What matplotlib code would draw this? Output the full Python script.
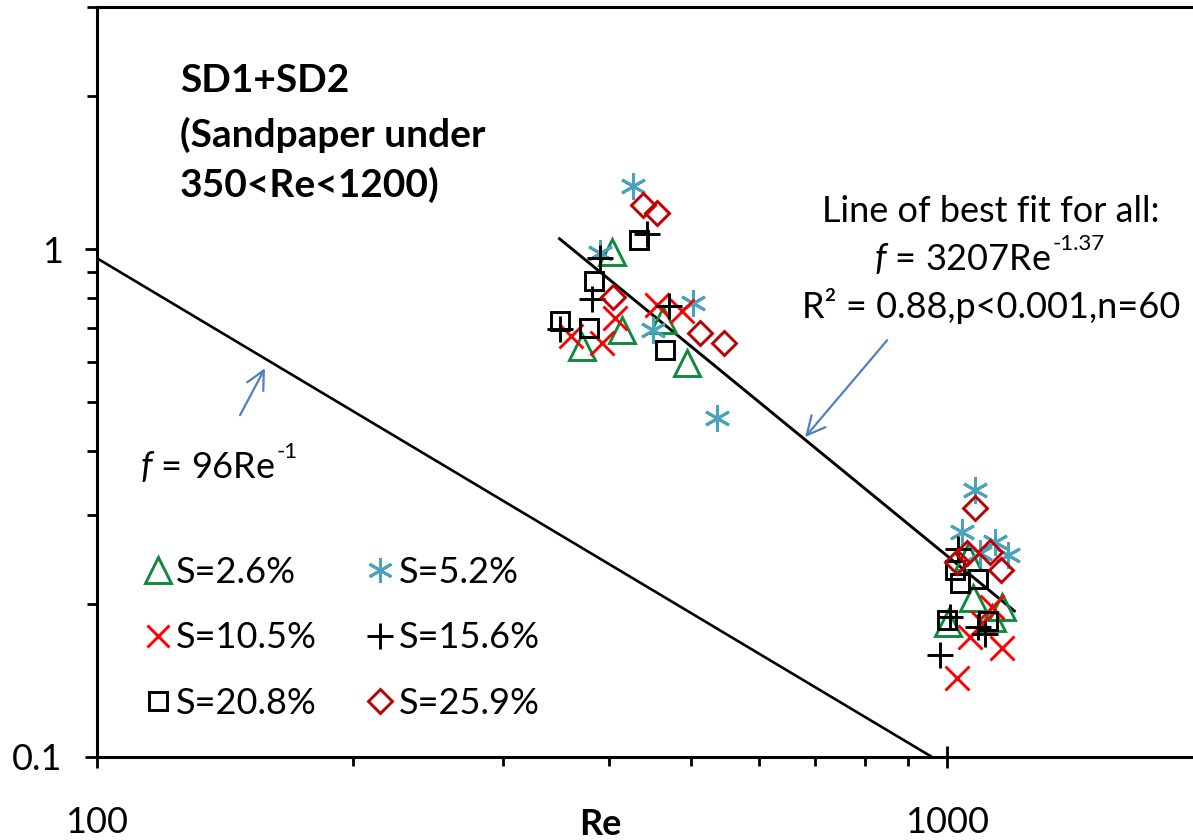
import matplotlib
matplotlib.use("Agg")
import matplotlib.pyplot as plt
import numpy as np

plt.rcParams['font.family'] = ['Lato', 'DejaVu Sans']
plt.rcParams['mathtext.fontset'] = 'custom'
plt.rcParams['mathtext.rm'] = 'Lato'
plt.rcParams['mathtext.it'] = 'Lato:italic'
plt.rcParams['mathtext.bf'] = 'Lato:bold'

# ---------------- data ----------------
labels = ["S=2.6%", "S=5.2%", "S=10.5%", "S=15.6%", "S=20.8%", "S=25.9%"]

re_s26 = [404, 415, 372, 463, 494, 1059, 1073, 1161, 1003, 1130]
f_s26 = [0.986, 0.693, 0.641, 0.725, 0.597, 0.248, 0.206, 0.197, 0.184, 0.188]

re_s52 = [427, 391, 502, 451, 536, 1079, 1041, 1139, 1180, 1094]
f_s52 = [1.331, 0.982, 0.783, 0.693, 0.465, 0.335, 0.277, 0.265, 0.250, 0.252]

re_s105 = [456, 488, 407, 361, 393, 1129, 1064, 1161, 1027, 1103]
f_s105 = [0.776, 0.755, 0.732, 0.674, 0.653, 0.197, 0.172, 0.164, 0.143, 0.184]

re_s156 = [444, 391, 382, 350, 471, 1030, 1008, 1108, 981, 1088]
f_s156 = [1.070, 0.960, 0.797, 0.696, 0.772, 0.257, 0.189, 0.175, 0.159, 0.180]

re_s208 = [434, 384, 350, 379, 466, 1022, 1036, 1088, 1000, 1117]
f_s208 = [1.042, 0.865, 0.722, 0.699, 0.633, 0.234, 0.220, 0.224, 0.186, 0.185]

re_s259 = [439, 456, 405, 512, 547, 1079, 1056, 1124, 1157, 1027]
f_s259 = [1.221, 1.177, 0.804, 0.683, 0.653, 0.309, 0.252, 0.253, 0.233, 0.242]

# reference lines
laminar_coef, laminar_exp = 96.0, -1.0
laminar_re = [100, 960]
fit_coef, fit_exp = 3207.0, -1.37
fit_re = [350, 1200]

# axes ticks
x_major = [100, 1000]
x_major_labels = ["100", "1000"]
x_minor = [200, 300, 400, 500, 600, 700, 800, 900]
y_major = [0.1, 1]
y_major_labels = ["0.1", "1"]
y_minor = [0.2, 0.3, 0.4, 0.5, 0.6, 0.7, 0.8, 0.9, 2, 3]

# ---------------- figure ----------------
W, H = 1193, 840
fig = plt.figure(figsize=(W / 100, H / 100), dpi=100)
ax = fig.add_axes([97 / W, (H - 757) / H, (1203 - 97) / W, 750 / H])
ax.set_xscale('log')
ax.set_yscale('log')
ax.set_xlim(100, 2000)
ax.set_ylim(0.1, 3)

def px(x, y):
    return (x / W, 1 - y / H)

FS = 26

# lines
lre = np.array(laminar_re, dtype=float)
ax.plot(lre, laminar_coef * lre ** laminar_exp, color='black', lw=1.9, zorder=2)
fre = np.array(fit_re, dtype=float)
ax.plot(fre, fit_coef * fre ** fit_exp, color='black', lw=2.1, zorder=2)

# series
series = [
    (re_s26, f_s26, dict(marker='^', color='#0e8a3c', ms=19)),
    (re_s52, f_s52, dict(marker=(6, 2, 0), color='#4aa3bd', ms=19)),
    (re_s105, f_s105, dict(marker='x', color='#ff0000', ms=17)),
    (re_s156, f_s156, dict(marker='+', color='#000000', ms=19)),
    (re_s208, f_s208, dict(marker='s', color='#000000', ms=13)),
    (re_s259, f_s259, dict(marker='D', color='#c00000', ms=12.5)),
]
handles = []
for (xs, ys, st), lab in zip(series, labels):
    h, = ax.plot(xs, ys, linestyle='none', marker=st['marker'], ms=st['ms'],
                 mfc='none', mec=st['color'], mew=2.1, label=lab, zorder=3)
    handles.append(h)

order = [0, 2, 4, 1, 3, 5]
leg = ax.legend([handles[i] for i in order], [labels[i] for i in order],
                ncol=2, loc='upper left', bbox_to_anchor=((140 - 97) / 1106, (757 - 556) / 750),
                frameon=False, fontsize=FS, handlelength=1.0, handletextpad=0.0,
                columnspacing=1.25, labelspacing=0.9, borderpad=0, borderaxespad=0,
                markerscale=0.95)

# spines & ticks
for s in ['left', 'bottom', 'top']:
    ax.spines[s].set_linewidth(2.2)
ax.spines['right'].set_visible(False)

ax.set_xticks(x_major, labels=x_major_labels)
ax.set_xticks(x_minor, minor=True, labels=[''] * len(x_minor))
ax.set_yticks(y_major, labels=y_major_labels)
ax.set_yticks(y_minor, minor=True, labels=[''] * len(y_minor))
ax.tick_params(axis='x', which='major', direction='inout', length=16, width=2, labelsize=FS, pad=27)
ax.tick_params(axis='x', which='minor', direction='out', length=6.5, width=2)
ax.tick_params(axis='y', which='major', direction='out', length=8.6, width=2, labelsize=FS, pad=16)
ax.tick_params(axis='y', which='minor', direction='out', length=7.2, width=2)

ax.set_xlabel('Re', fontsize=FS, fontweight='bold', va='baseline')
ax.xaxis.set_label_coords((600 - 97) / 1106, (757 - 835) / 750)

# texts
TFS = 28
fig.text(*px(180, 92), 'SD1+SD2', fontsize=TFS, fontweight='bold', va='baseline', ha='left')
fig.text(*px(180, 147), '(Sandpaper under', fontsize=TFS, fontweight='bold', va='baseline', ha='left')
fig.text(*px(180, 197), '350<Re<1200)', fontsize=TFS, fontweight='bold', va='baseline', ha='left')

fig.text(*px(991, 222), 'Line of best fit for all:', fontsize=FS, va='baseline', ha='center')
t_fit = fig.text(*px(874, 270), r'$\mathit{f}$' + ' = 3207Re', fontsize=FS, va='baseline', ha='left')
fig.text(*px(991, 318), 'R\u00b2 = 0.88,p<0.001,n=60', fontsize=FS, va='baseline', ha='center')
t_lam = fig.text(*px(140, 478), r'$\mathit{f}$' + ' = 96Re', fontsize=FS, va='baseline', ha='left')

# superscript exponents (hyphen style, as in the reference)
for base, sup in [(t_fit, '-1.37'), (t_lam, '-1')]:
    ann = matplotlib.text.Annotation(sup, xy=(1.0, 0.62), xycoords=base,
                                     xytext=(1, 0), textcoords='offset points',
                                     fontsize=16, va='bottom', ha='left')
    ann.set_figure(fig)
    fig.texts.append(ann)

# arrows (data coordinates)
arrow_col = '#4f81bd'
ax.annotate('', xy=(157.6, 0.583), xytext=(147.3, 0.471),
            arrowprops=dict(arrowstyle='->,head_length=0.6,head_width=0.3', color=arrow_col,
                            lw=1.6, mutation_scale=22, shrinkA=0, shrinkB=0))
ax.annotate('', xy=(680.7, 0.4266), xytext=(850.2, 0.662),
            arrowprops=dict(arrowstyle='->,head_length=0.6,head_width=0.3', color=arrow_col,
                            lw=1.6, mutation_scale=22, shrinkA=0, shrinkB=0))

fig.savefig('out.png', dpi=100)
